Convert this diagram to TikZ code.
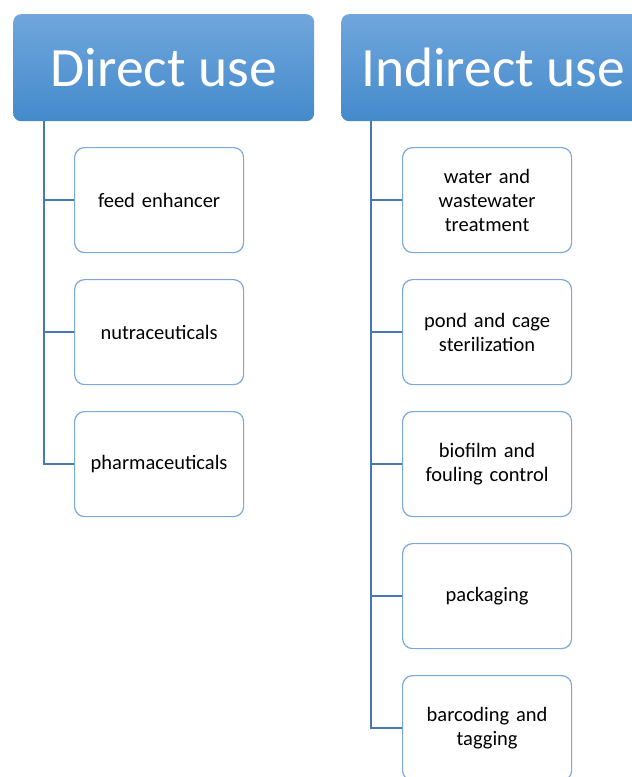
\documentclass[tikz,border=0pt]{standalone}
\usepackage{fontspec}
\setmainfont{Carlito}
\usetikzlibrary{positioning}
\definecolor{headtop}{RGB}{112,166,220}
\definecolor{headbot}{RGB}{68,138,204}
\definecolor{boxline}{RGB}{122,168,218}
\definecolor{treeline}{RGB}{72,120,178}

\begin{document}
\begin{tikzpicture}[x=1pt,y=-1pt,
  head/.style={rectangle,rounded corners=8pt,top color=headtop,bottom color=headbot,
               draw=none,text=white,minimum height=107pt,anchor=north west,
               font=\fontsize{55.5}{60}\selectfont},
  item/.style={rectangle,rounded corners=10pt,draw=boxline,line width=1.2pt,fill=white,
               minimum width=169pt,minimum height=105pt,text width=150pt,align=center,
               font=\fontsize{20.5}{24}\selectfont},
  link/.style={draw=treeline,line width=1.3pt}
]
  \useasboundingbox (0,0) rectangle (632,777);
  \clip (0,0) rectangle (632,777);

  % headers
  \node[head,minimum width=301pt] (dhead) at (13,14) {Direct use};
  \node[head,minimum width=304pt] (ihead) at (341,14) {Indirect use};

  % direct use
  \node[item,anchor=north west] (feed) at (74,147) {feed enhancer};
  \node[item,below=25.8pt of feed] (nutra) {nutraceuticals};
  \node[item,below=25.8pt of nutra] (pharma) {pharmaceuticals};

  % indirect use
  \node[item,anchor=north west] (water) at (402,147) {water and\\wastewater\\treatment};
  \node[item,below=25.8pt of water] (pond) {pond and cage\\sterilization};
  \node[item,below=25.8pt of pond] (biofilm) {biofilm and\\fouling control};
  \node[item,below=25.8pt of biofilm] (pack) {packaging};
  \node[item,below=25.8pt of pack] (barcode) {barcoding and\\tagging};

  \coordinate (dtrunk) at (44,121);
  \coordinate (itrunk) at (371,121);

  \draw[link] (dtrunk) |- (pharma.west);
  \foreach \c in {feed,nutra}
    \draw[link] (dtrunk |- \c.west) -- (\c.west);

  \draw[link] (itrunk) |- (barcode.west);
  \foreach \c in {water,pond,biofilm,pack}
    \draw[link] (itrunk |- \c.west) -- (\c.west);
\end{tikzpicture}
\end{document}
